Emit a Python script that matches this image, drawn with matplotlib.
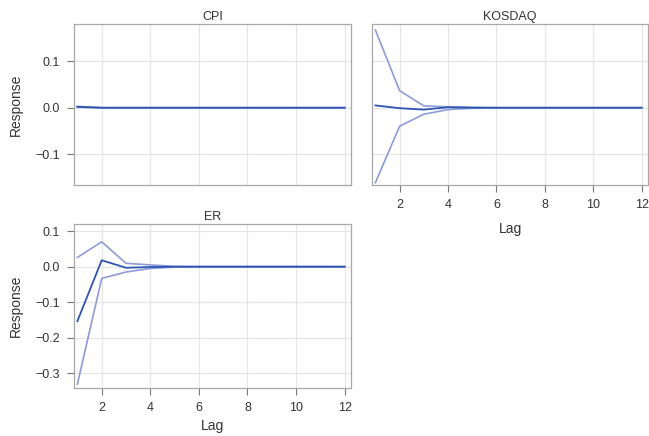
import matplotlib
matplotlib.use("Agg")
import matplotlib.pyplot as plt

lags = list(range(1, 13))

# impulse responses (estimate, lower and upper band)
cpi_resp = [0.002, 0, 0, 0, 0, 0, 0, 0, 0, 0, 0, 0]
cpi_low = [0.001, 0, 0, 0, 0, 0, 0, 0, 0, 0, 0, 0]
cpi_high = [0.003, 0, 0, 0, 0, 0, 0, 0, 0, 0, 0, 0]

kosdaq_resp = [0.005, -0.001, -0.004, 0.001, 0, 0, 0, 0, 0, 0, 0, 0]
kosdaq_low = [-0.162, -0.040, -0.014, -0.004, -0.001, 0, 0, 0, 0, 0, 0, 0]
kosdaq_high = [0.168, 0.037, 0.004, 0.002, 0.001, 0, 0, 0, 0, 0, 0, 0]

er_resp = [-0.153, 0.018, -0.003, -0.001, 0, 0, 0, 0, 0, 0, 0, 0]
er_low = [-0.330, -0.033, -0.015, -0.005, -0.001, 0, 0, 0, 0, 0, 0, 0]
er_high = [0.026, 0.070, 0.0095, 0.005, 0.001, 0, 0, 0, 0, 0, 0, 0]

band_col = "#8d9bd8"
line_col = "#2f55b2"
frame_col = "#a8a8a8"
grid_col = "#e6e6e6"

plt.rcParams["font.family"] = ["Liberation Sans", "DejaVu Sans"]

fig = plt.figure(figsize=(6.49, 4.36), dpi=100)
W, H = 649, 436

def make_ax(x0, x1, y0, y1):
    return fig.add_axes([x0 / W, 1 - y1 / H, (x1 - x0) / W, (y1 - y0) / H])

ax_cpi = make_ax(74, 351, 24, 185)
ax_kos = make_ax(372, 648, 24, 185)
ax_er = make_ax(74, 351, 224, 388)

panels = [
    (ax_cpi, "CPI", cpi_resp, cpi_low, cpi_high),
    (ax_kos, "KOSDAQ", kosdaq_resp, kosdaq_low, kosdaq_high),
    (ax_er, "ER", er_resp, er_low, er_high),
]

for ax, title, resp, low, high in panels:
    ax.plot(lags, low, color=band_col, lw=1.2)
    ax.plot(lags, high, color=band_col, lw=1.2)
    ax.plot(lags, resp, color=line_col, lw=1.3)
    ax.set_xlim(0.86, 12.26)
    ax.set_xticks([2, 4, 6, 8, 10, 12])
    ax.grid(True, color=grid_col, lw=0.9)
    ax.set_axisbelow(True)
    for s in ax.spines.values():
        s.set_color(frame_col)
        s.set_linewidth(0.9)
    ax.tick_params(colors="#777777", labelcolor="#333333", labelsize=9,
                   length=5, width=0.8, pad=5)
    ax.set_title(title, fontsize=9, color="#333333", pad=3)

ax_cpi.set_ylim(-0.167, 0.181)
ax_kos.set_ylim(-0.167, 0.181)
ax_er.set_ylim(-0.341, 0.12)

ax_cpi.set_yticks([-0.1, 0.0, 0.1])
ax_kos.set_yticks([-0.1, 0.0, 0.1])
ax_er.set_yticks([-0.3, -0.2, -0.1, 0.0, 0.1])
ax_cpi.set_yticklabels(["\u22120.1", "0.0", "0.1"])
ax_er.set_yticklabels(["\u22120.3", "\u22120.2", "\u22120.1", "0.0", "0.1"])

ax_cpi.tick_params(axis="x", labelbottom=False, length=0)
ax_kos.tick_params(axis="y", labelleft=False, length=0)

ax_cpi.set_ylabel("Response", fontsize=10, color="#333333", labelpad=9)
ax_er.set_ylabel("Response", fontsize=10, color="#333333", labelpad=9)
ax_kos.set_xlabel("Lag", fontsize=10, color="#333333", labelpad=8)
ax_er.set_xlabel("Lag", fontsize=10, color="#333333", labelpad=4)

fig.savefig("out.png", dpi=100, facecolor="white")
